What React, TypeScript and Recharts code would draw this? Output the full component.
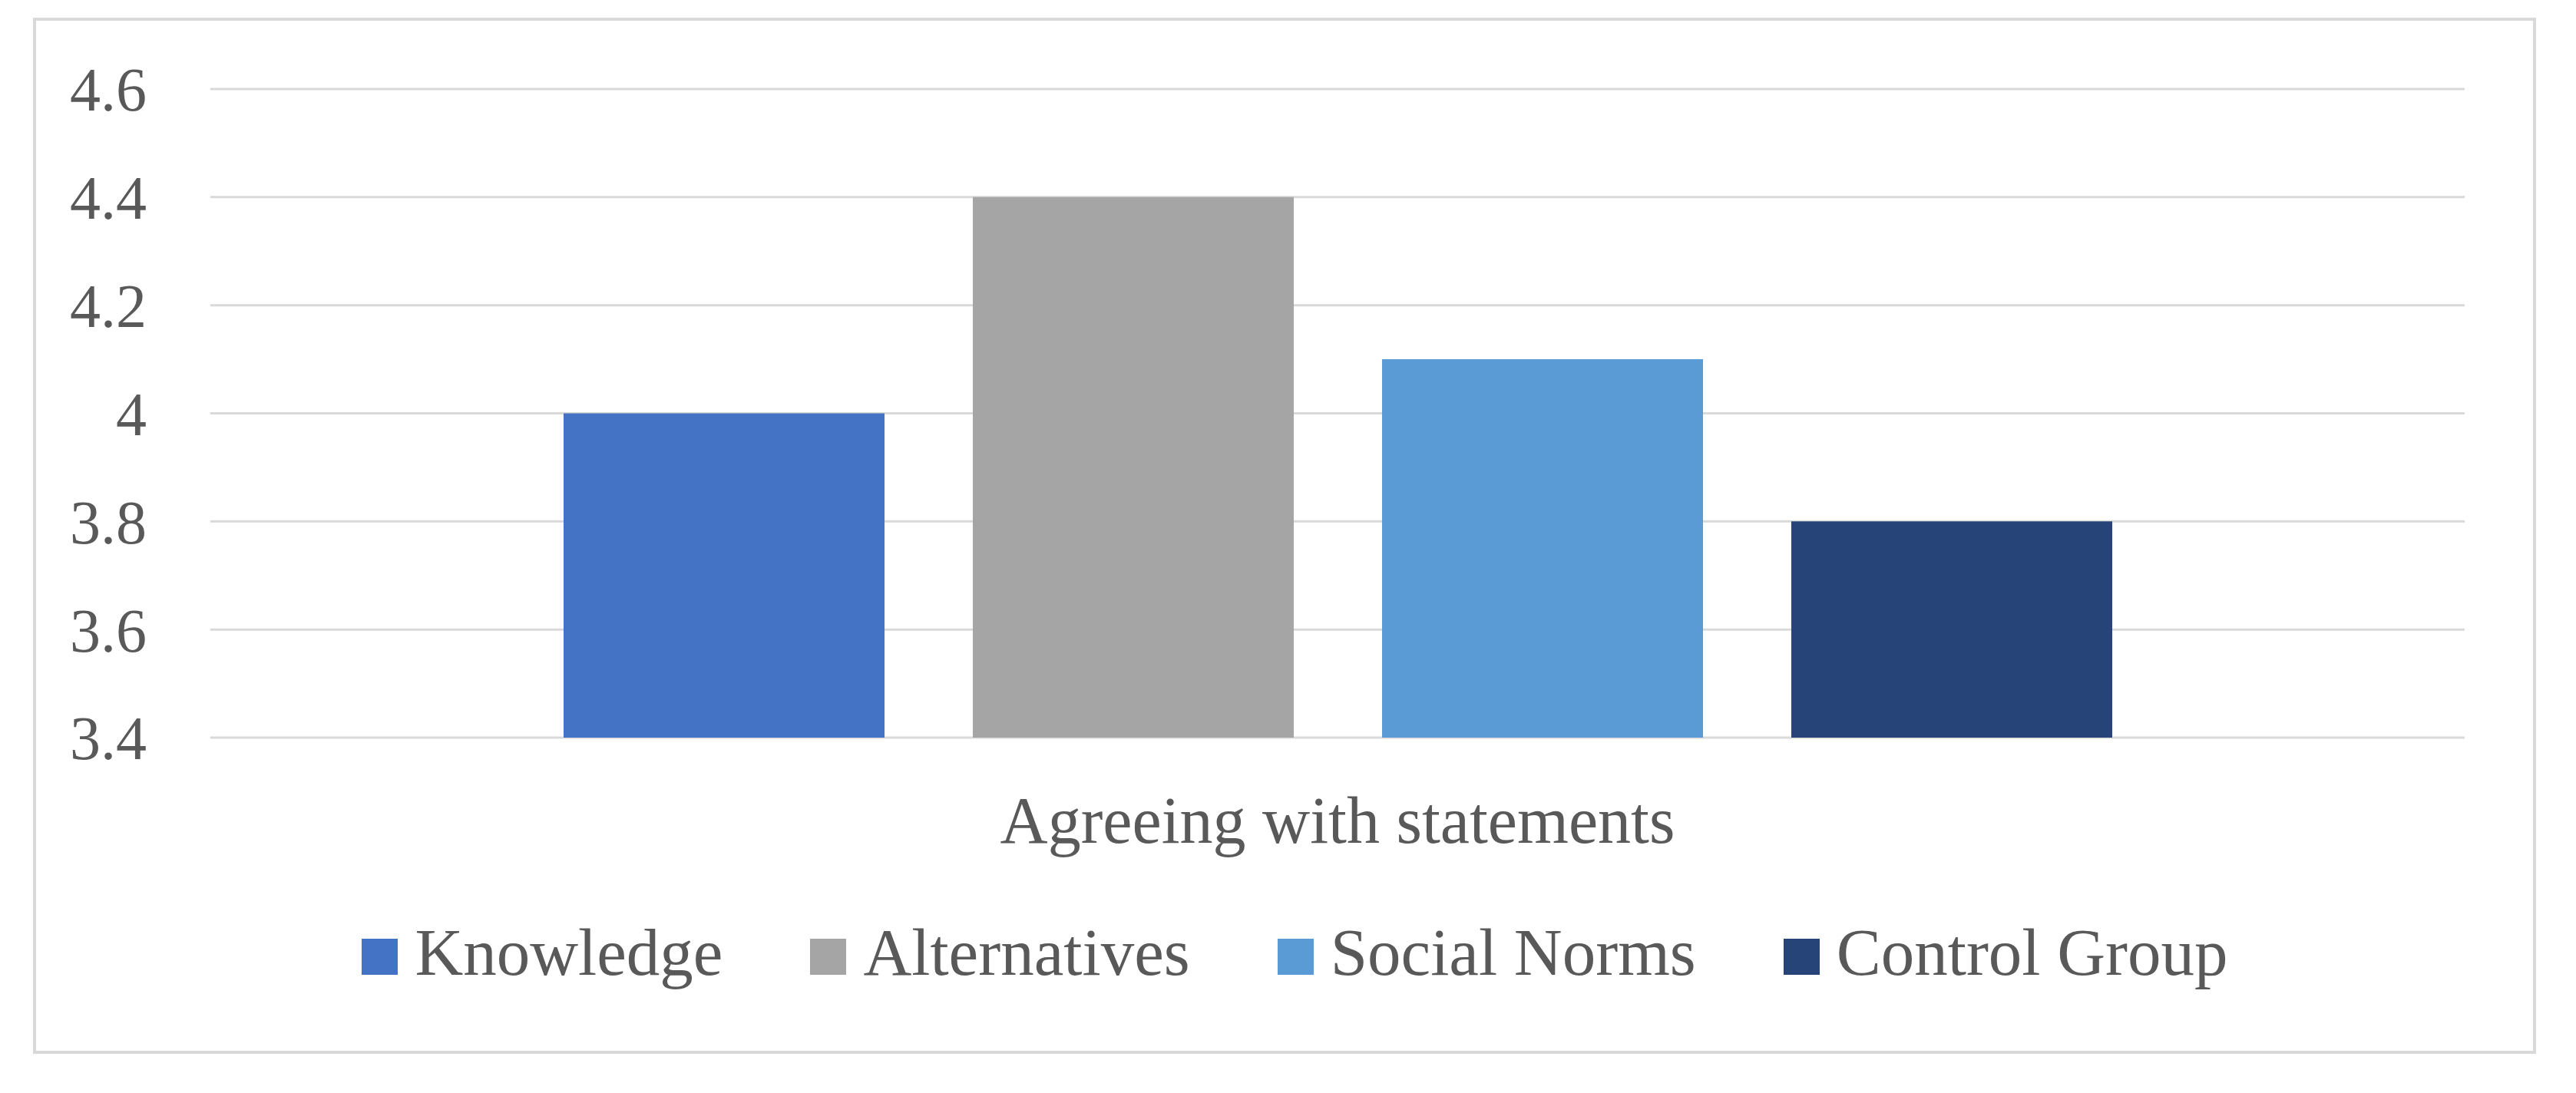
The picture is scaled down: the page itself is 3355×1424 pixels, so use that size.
import React from 'react';
import { BarChart, Bar, XAxis, YAxis, CartesianGrid, Legend } from 'recharts';

const category = 'Agreeing with statements';
const seriesNames = ['Knowledge', 'Alternatives', 'Social Norms', 'Control Group'];
const seriesValues = [4.0, 4.4, 4.1, 3.8];
const seriesColors = ['#4472C4', '#A5A5A5', '#5B9BD5', '#264478'];
const yTicks = [3.4, 3.6, 3.8, 4.0, 4.2, 4.4, 4.6];

const FONT = '"Liberation Serif", "Times New Roman", serif';
const TEXT = '#595959';

// one row, one column per series
const data = [
  seriesNames.reduce(
    (row, name, i) => ({ ...row, [name]: seriesValues[i] }),
    { name: category } as Record<string, string | number>
  ),
];

const LegendBox = () => (
  <div
    style={{
      display: 'flex',
      justifyContent: 'center',
      paddingLeft: 18,
      fontFamily: FONT,
      fontSize: 87,
      lineHeight: '87px',
      color: TEXT,
    }}
  >
    {seriesNames.map((name, i) => (
      <div
        key={`legend-${name}`}
        style={{
          display: 'flex',
          alignItems: 'baseline',
          marginRight: i < seriesNames.length - 1 ? 114 : 0,
        }}
      >
        <span
          style={{
            display: 'inline-block',
            width: 47,
            height: 47,
            background: seriesColors[i],
            marginRight: 22,
          }}
        />
        <span style={{ whiteSpace: 'nowrap' }}>{name}</span>
      </div>
    ))}
  </div>
);

export default function App() {
  return (
    <div
      style={{
        position: 'absolute',
        left: 0,
        top: 0,
        width: 3355,
        height: 1424,
        background: '#ffffff',
      }}
    >
      {/* chart area frame */}
      <div
        style={{
          position: 'absolute',
          left: 43,
          top: 23,
          width: 3303 - 43,
          height: 1373 - 23,
          border: '4px solid #d9d9d9',
          boxSizing: 'border-box',
        }}
      />
      <div style={{ position: 'absolute', left: 0, top: 0 }}>
        <BarChart
          width={3355}
          height={1424}
          data={data}
          margin={{ top: 116, right: 145, bottom: 363, left: 0 }}
          barGap={115}
        >
          <CartesianGrid vertical={false} stroke="#d9d9d9" strokeWidth={3} />
          <XAxis
            dataKey="name"
            axisLine={false}
            tickLine={false}
            tickSize={0}
            tickMargin={76}
            height={100}
            tick={{ fill: TEXT, fontSize: 86, fontFamily: FONT }}
          />
          <YAxis
            type="number"
            domain={[3.4, 4.6]}
            ticks={yTicks}
            interval={0}
            axisLine={false}
            tickLine={false}
            tickSize={0}
            tickMargin={83}
            width={274}
            tickFormatter={(v: number) => String(Math.round(v * 10) / 10)}
            tick={{ fill: TEXT, fontSize: 80, fontFamily: FONT }}
          />
          <Legend
            layout="horizontal"
            verticalAlign="middle"
            content={<LegendBox />}
            wrapperStyle={{ left: 0, top: 1197, width: 3355 }}
          />
          {seriesNames.map((name, i) => (
            <Bar
              key={name}
              dataKey={name}
              fill={seriesColors[i]}
              barSize={418}
              isAnimationActive={false}
            />
          ))}
        </BarChart>
      </div>
    </div>
  );
}
